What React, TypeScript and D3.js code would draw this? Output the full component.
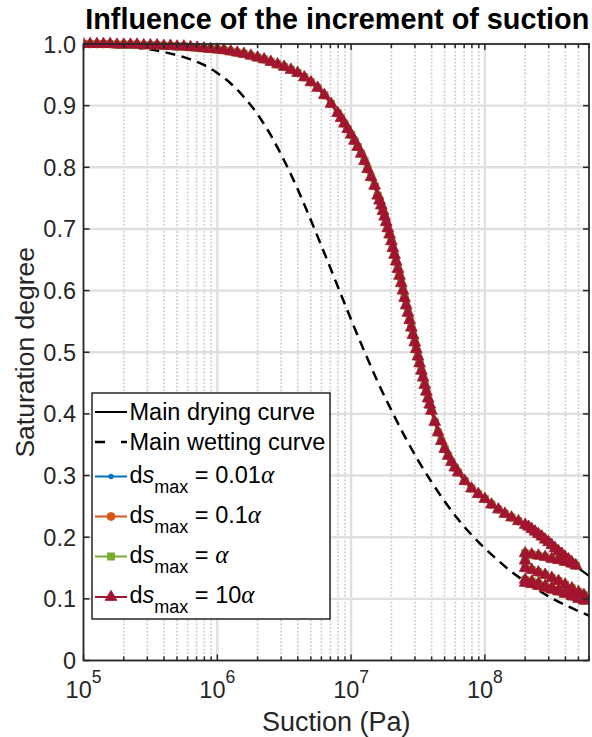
import React from 'react';
import * as d3 from 'd3';

const WIDTH = 592;
const HEIGHT = 737;
const PLOT = { left: 83.5, right: 589, top: 44, bottom: 660.5 };

// axis limits and ticks
const suctionLimits: [number, number] = [1e5, 6e8];
const saturationLimits: [number, number] = [0, 1];
const decadeTicks = [1e5, 1e6, 1e7, 1e8];
const decadeExponents = ['5', '6', '7', '8'];
const saturationTicks = [0, 0.1, 0.2, 0.3, 0.4, 0.5, 0.6, 0.7, 0.8, 0.9, 1.0];
const saturationLabels = ['0', '0.1', '0.2', '0.3', '0.4', '0.5', '0.6', '0.7', '0.8', '0.9', '1.0'];

// [suction (Pa), saturation degree]
const mainDrying: [number, number][] = [
  [1.00e5, 1.000], [1.58e5, 1.000], [2.51e5, 0.999], [3.98e5, 0.997], [6.31e5, 0.995],
  [1.00e6, 0.991], [1.58e6, 0.984], [2.51e6, 0.971], [3.16e6, 0.963], [3.98e6, 0.953],
  [5.01e6, 0.938], [6.31e6, 0.917], [7.94e6, 0.888], [1.00e7, 0.853], [1.26e7, 0.810],
  [1.58e7, 0.754], [2.00e7, 0.680], [2.51e7, 0.588], [3.16e7, 0.493], [3.98e7, 0.405],
  [5.01e7, 0.343], [6.31e7, 0.305], [7.94e7, 0.279], [1.00e8, 0.262], [1.26e8, 0.245],
  [1.58e8, 0.232], [2.00e8, 0.220], [2.51e8, 0.205], [3.16e8, 0.187], [3.98e8, 0.168],
  [5.01e8, 0.150], [6.31e8, 0.134],
];

const mainWetting: [number, number][] = [
  [1.00e5, 0.999], [1.58e5, 0.997], [2.51e5, 0.994], [3.98e5, 0.987], [6.31e5, 0.975],
  [7.94e5, 0.966], [1.00e6, 0.953], [1.26e6, 0.936], [1.58e6, 0.914], [2.00e6, 0.886],
  [2.51e6, 0.852], [3.16e6, 0.811], [3.98e6, 0.765], [5.01e6, 0.714], [6.31e6, 0.661],
  [7.94e6, 0.607], [1.00e7, 0.553], [1.26e7, 0.501], [1.58e7, 0.452], [2.00e7, 0.406],
  [2.51e7, 0.364], [3.16e7, 0.325], [3.98e7, 0.290], [5.01e7, 0.258], [6.31e7, 0.229],
  [7.94e7, 0.204], [1.00e8, 0.182], [1.26e8, 0.162], [1.58e8, 0.144], [2.00e8, 0.128],
  [2.51e8, 0.114], [3.16e8, 0.101], [3.98e8, 0.090], [5.01e8, 0.080], [6.31e8, 0.071],
];

// simulated path (drying up to 4.8e8 Pa, then cycles between 2e8 and 5.5e8 Pa)
const dryingPath: [number, number][] = [
  [1.00e5, 1.000], [1.12e5, 1.000], [1.26e5, 1.000], [1.41e5, 1.000], [1.58e5, 1.000],
  [1.78e5, 0.999], [2.00e5, 0.999], [2.24e5, 0.999], [2.51e5, 0.999], [2.82e5, 0.998],
  [3.16e5, 0.998], [3.55e5, 0.998], [3.98e5, 0.997], [4.47e5, 0.997], [5.01e5, 0.996],
  [5.62e5, 0.996], [6.31e5, 0.995], [7.08e5, 0.994], [7.94e5, 0.993], [8.91e5, 0.992],
  [1.00e6, 0.991], [1.12e6, 0.990], [1.26e6, 0.988], [1.41e6, 0.986], [1.58e6, 0.984],
  [1.78e6, 0.981], [2.00e6, 0.978], [2.24e6, 0.975], [2.51e6, 0.971], [2.82e6, 0.967],
  [3.16e6, 0.963], [3.55e6, 0.958], [3.98e6, 0.953], [4.47e6, 0.946], [5.01e6, 0.938],
  [5.62e6, 0.929], [6.31e6, 0.917], [7.08e6, 0.903], [7.94e6, 0.888], [8.41e6, 0.880],
  [8.91e6, 0.871], [9.44e6, 0.862], [1.00e7, 0.853], [1.06e7, 0.843], [1.12e7, 0.833],
  [1.19e7, 0.822], [1.26e7, 0.810], [1.33e7, 0.797], [1.41e7, 0.784], [1.50e7, 0.770],
  [1.58e7, 0.754], [1.63e7, 0.746], [1.68e7, 0.738], [1.73e7, 0.729], [1.78e7, 0.720],
  [1.83e7, 0.711], [1.88e7, 0.701], [1.94e7, 0.691], [2.00e7, 0.680], [2.05e7, 0.669],
  [2.11e7, 0.658], [2.17e7, 0.647], [2.24e7, 0.635], [2.30e7, 0.624], [2.37e7, 0.612],
  [2.44e7, 0.600], [2.51e7, 0.588], [2.58e7, 0.576], [2.66e7, 0.564], [2.74e7, 0.552],
  [2.82e7, 0.540], [2.90e7, 0.528], [2.99e7, 0.516], [3.07e7, 0.505], [3.16e7, 0.493],
  [3.25e7, 0.482], [3.35e7, 0.470], [3.45e7, 0.459], [3.55e7, 0.447], [3.65e7, 0.436],
  [3.76e7, 0.425], [3.87e7, 0.415], [3.98e7, 0.405], [4.22e7, 0.387], [4.47e7, 0.370],
  [4.73e7, 0.356], [5.01e7, 0.343], [5.31e7, 0.332], [5.62e7, 0.322], [5.96e7, 0.313],
  [6.31e7, 0.305], [7.08e7, 0.291], [7.94e7, 0.279], [8.91e7, 0.270], [1.00e8, 0.262],
  [1.12e8, 0.253], [1.26e8, 0.245], [1.41e8, 0.238], [1.58e8, 0.232], [1.78e8, 0.226],
  [2.00e8, 0.220], [2.12e8, 0.217], [2.24e8, 0.213], [2.37e8, 0.209], [2.51e8, 0.205],
  [2.66e8, 0.201], [2.82e8, 0.196], [2.99e8, 0.192], [3.16e8, 0.187], [3.35e8, 0.182],
  [3.55e8, 0.177], [3.76e8, 0.173], [3.98e8, 0.168], [4.22e8, 0.164], [4.47e8, 0.159],
  [4.79e8, 0.154],
];
const scanWetting1: [number, number][] = [
  [4.47e8, 0.157], [3.98e8, 0.160], [3.55e8, 0.163], [3.16e8, 0.165], [2.82e8, 0.168],
  [2.51e8, 0.170], [2.24e8, 0.172], [2.00e8, 0.174], [2.00e8, 0.162],
];
const scanDrying1: [number, number][] = [
  [2.00e8, 0.150], [2.24e8, 0.147], [2.51e8, 0.143], [2.82e8, 0.139], [3.16e8, 0.134],
  [3.55e8, 0.129], [3.98e8, 0.123], [4.47e8, 0.117], [5.01e8, 0.111], [5.50e8, 0.106],
];
const scanWetting2: [number, number][] = [
  [5.50e8, 0.100], [5.01e8, 0.103], [4.47e8, 0.106], [3.98e8, 0.110], [3.55e8, 0.114],
  [3.16e8, 0.118], [2.82e8, 0.121], [2.51e8, 0.125], [2.24e8, 0.128], [2.00e8, 0.131],
];
const scanDrying2: [number, number][] = [
  [2.00e8, 0.126], [2.24e8, 0.124], [2.51e8, 0.121], [2.82e8, 0.118], [3.16e8, 0.115],
  [3.55e8, 0.112], [3.98e8, 0.108], [4.47e8, 0.104], [5.01e8, 0.100], [5.50e8, 0.097],
];

const seriesFactors = ['0.01', '0.1', '', '10'];
const seriesColors = ['#0072BD', '#D95319', '#77AC30', '#A2142F'];
const seriesMarkers = ['dot', 'circle', 'square', 'triangle'];

const FONT = 'Liberation Sans, Arial, Helvetica, sans-serif';
const AXIS = '#262626';

const markerPath = (kind: string) => {
  if (kind === 'dot') return d3.symbol(d3.symbolCircle, 18)();
  if (kind === 'circle') return d3.symbol(d3.symbolCircle, 50)();
  if (kind === 'square') return d3.symbol(d3.symbolSquare, 52)();
  return d3.symbol(d3.symbolTriangle, 60)();
};

export default function App() {
  const x = d3.scaleLog().domain(suctionLimits).range([PLOT.left, PLOT.right]);
  const y = d3.scaleLinear().domain(saturationLimits).range([PLOT.bottom, PLOT.top]);

  const line = d3.line<[number, number]>()
    .x(d => x(d[0]))
    .y(d => y(d[1]))
    .curve(d3.curveMonotoneX);
  const straight = d3.line<[number, number]>()
    .x(d => x(d[0]))
    .y(d => y(d[1]));

  const cyclePath = [...dryingPath, ...scanWetting1, ...scanDrying1, ...scanWetting2, ...scanDrying2];

  const minorTicks = x.ticks().filter(v => !decadeTicks.includes(v) && v <= suctionLimits[1]);

  const legendRows = [412, 442, 476.5, 516.5, 556.5, 597];
  const legendFont = 23.5;

  return (
    <svg width={WIDTH} height={HEIGHT} style={{ position: 'fixed', left: 0, top: 0, background: '#fff' }}
      fontFamily={FONT}>
      <defs>
        <clipPath id="plotClip">
          <rect x={PLOT.left} y={PLOT.top - 8} width={PLOT.right - PLOT.left} height={PLOT.bottom - PLOT.top + 8} />
        </clipPath>
      </defs>
      <rect x={0} y={0} width={WIDTH} height={HEIGHT} fill="#fff" />

      {/* grid */}
      {minorTicks.map(v => (
        <line key={'mg' + v} x1={x(v)} x2={x(v)} y1={PLOT.top} y2={PLOT.bottom}
          stroke="#c6c6c6" strokeWidth={1.6} strokeDasharray="1.6,2" />
      ))}
      {decadeTicks.map(v => (
        <line key={'gx' + v} x1={x(v)} x2={x(v)} y1={PLOT.top} y2={PLOT.bottom} stroke="#dfdfdf" strokeWidth={2.4} />
      ))}
      {saturationTicks.map(v => (
        <line key={'gy' + v} x1={PLOT.left} x2={PLOT.right} y1={y(v)} y2={y(v)} stroke="#dfdfdf" strokeWidth={2.4} />
      ))}

      <g clipPath="url(#plotClip)">
        <path d={line(mainDrying) || ''} fill="none" stroke="#000" strokeWidth={2.2} />
        <path d={line(mainWetting) || ''} fill="none" stroke="#000" strokeWidth={2.5} strokeDasharray="10,6.5" />
        {seriesColors.map((c, i) => (
          <g key={'s' + i}>
            <path d={straight(cyclePath) || ''} fill="none" stroke={c} strokeWidth={2.2} />
            {cyclePath.map((d, j) => (
              <path key={j} d={markerPath(seriesMarkers[i]) || ''} fill={c} stroke={c} strokeWidth={0.8}
                transform={`translate(${x(d[0])},${y(d[1])})`} />
            ))}
          </g>
        ))}
      </g>

      {/* axes box and ticks */}
      <rect x={PLOT.left} y={PLOT.top} width={PLOT.right - PLOT.left} height={PLOT.bottom - PLOT.top}
        fill="none" stroke={AXIS} strokeWidth={1.7} />
      {decadeTicks.map(v => (
        <g key={'tx' + v}>
          <line x1={x(v)} x2={x(v)} y1={PLOT.bottom} y2={PLOT.bottom - 6} stroke={AXIS} strokeWidth={1.5} />
          <line x1={x(v)} x2={x(v)} y1={PLOT.top} y2={PLOT.top + 6} stroke={AXIS} strokeWidth={1.5} />
        </g>
      ))}
      {minorTicks.map(v => (
        <g key={'mt' + v}>
          <line x1={x(v)} x2={x(v)} y1={PLOT.bottom} y2={PLOT.bottom - 4} stroke={AXIS} strokeWidth={1.5} />
          <line x1={x(v)} x2={x(v)} y1={PLOT.top} y2={PLOT.top + 4} stroke={AXIS} strokeWidth={1.5} />
        </g>
      ))}
      {saturationTicks.map(v => (
        <g key={'ty' + v}>
          <line x1={PLOT.left} x2={PLOT.left + 6} y1={y(v)} y2={y(v)} stroke={AXIS} strokeWidth={1.5} />
          <line x1={PLOT.right} x2={PLOT.right - 6} y1={y(v)} y2={y(v)} stroke={AXIS} strokeWidth={1.5} />
        </g>
      ))}

      {/* tick labels */}
      {saturationTicks.map((v, i) => (
        <text key={'ly' + v} x={76} y={y(v) + 8.5} textAnchor="end" fontSize={23.5} fill={AXIS}>
          {saturationLabels[i]}
        </text>
      ))}
      {decadeTicks.map((v, i) => (
        <text key={'lx' + v} x={x(v)} y={698} textAnchor="middle" fontSize={23.5} fill={AXIS}>
          10<tspan dy={-15} fontSize={17.5}>{decadeExponents[i]}</tspan>
        </text>
      ))}

      {/* labels */}
      <text x={(PLOT.left + PLOT.right) / 2} y={731} textAnchor="middle" fontSize={27} fill={AXIS}>
        Suction (Pa)
      </text>
      <text transform={`translate(34,${(PLOT.top + PLOT.bottom) / 2}) rotate(-90)`} textAnchor="middle"
        fontSize={26.5} fill={AXIS}>
        Saturation degree
      </text>
      <text x={(PLOT.left + PLOT.right) / 2 + 1} y={29} textAnchor="middle" fontSize={28.8} fontWeight="bold" fill="#000">
        Influence of the increment of suction
      </text>

      {/* legend */}
      <rect x={92} y={393} width={238} height={226} fill="#fff" stroke={AXIS} strokeWidth={1.5} />
      <line x1={95} x2={127} y1={legendRows[0]} y2={legendRows[0]} stroke="#000" strokeWidth={2} />
      <text x={129.5} y={legendRows[0] + 8} fontSize={legendFont} fill="#000">Main drying curve</text>
      <line x1={95} x2={127} y1={legendRows[1]} y2={legendRows[1]} stroke="#000" strokeWidth={2.4}
        strokeDasharray="10,16" />
      <text x={129.5} y={legendRows[1] + 8} fontSize={legendFont} fill="#000">Main wetting curve</text>
      {seriesColors.map((c, i) => {
        const ly = legendRows[i + 2];
        return (
          <g key={'lg' + i}>
            <line x1={95} x2={127} y1={ly} y2={ly} stroke={c} strokeWidth={2} />
            <path d={markerPath(seriesMarkers[i]) || ''} fill={c} stroke={c} strokeWidth={0.8}
              transform={`translate(111,${ly})`} />
            <text x={129.5} y={ly + 6} fontSize={legendFont} fill="#000">
              d<tspan fontStyle="italic">s</tspan>
              <tspan dy={10} fontSize={18}>max</tspan>
              <tspan dy={-10}>{' = ' + seriesFactors[i]}</tspan>
              <tspan fontFamily="Liberation Serif, Times New Roman, serif" fontStyle="italic" fontSize={25}>α</tspan>
            </text>
          </g>
        );
      })}
    </svg>
  );
}
